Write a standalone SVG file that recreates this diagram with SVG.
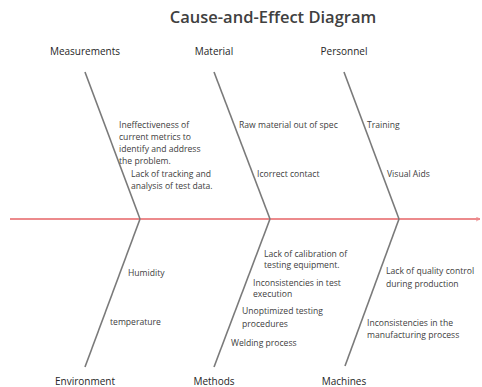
<svg xmlns="http://www.w3.org/2000/svg" width="482" height="387" viewBox="0 0 482 387">
<style>
.title{font-family:"Open Sans","Noto Sans",sans-serif;font-size:16.5px;font-weight:600;fill:#404040}
.cat{font-family:"Open Sans","Noto Sans",sans-serif;font-size:10px;fill:#262626;text-anchor:middle}
.cause{font-family:"Open Sans","Noto Sans",sans-serif;font-size:8.6px;fill:#404040}
.bone{stroke:#7a7a7a;stroke-width:1.6;fill:none}
.spine{stroke:#ec8a8c;stroke-width:2.2;fill:none}
</style>
<defs>
<marker id="arr" viewBox="0 0 10 10" refX="9" refY="5" markerWidth="5" markerHeight="5" orient="auto" markerUnits="userSpaceOnUse">
<path d="M1,1 L9,5 L1,9" fill="none" stroke="#ec8a8c" stroke-width="1.5"/>
</marker>
</defs>
<rect width="482" height="387" fill="#ffffff"/>
<text class="title" x="273" y="23" text-anchor="middle">Cause-and-Effect Diagram</text>
<g id="connectors">
<line class="spine" x1="10" y1="219" x2="480" y2="219" marker-end="url(#arr)"/>
<line class="bone" x1="85" y1="72" x2="140" y2="219"/>
<line class="bone" x1="214" y1="72" x2="270" y2="219"/>
<line class="bone" x1="344" y1="72" x2="399" y2="219"/>
<line class="bone" x1="140" y1="219" x2="85" y2="367"/>
<line class="bone" x1="270" y1="219" x2="214" y2="367"/>
<line class="bone" x1="399" y1="219" x2="345" y2="366"/>
</g>
<g id="measurements">
<text class="cat" x="85" y="55">Measurements</text>
<text class="cause" x="119" y="128">Ineffectiveness of</text>
<text class="cause" x="119" y="140">current metrics to</text>
<text class="cause" x="119" y="152">identify and address</text>
<text class="cause" x="119" y="164">the problem.</text>
<text class="cause" x="131" y="177">Lack of tracking and</text>
<text class="cause" x="131" y="189">analysis of test data.</text>
</g>
<g id="material">
<text class="cat" x="214" y="55">Material</text>
<text class="cause" x="239" y="128">Raw material out of spec</text>
<text class="cause" x="257" y="177">Icorrect contact</text>
</g>
<g id="personnel">
<text class="cat" x="344" y="55">Personnel</text>
<text class="cause" x="367" y="128">Training</text>
<text class="cause" x="387" y="177">Visual Aids</text>
</g>
<g id="environment">
<text class="cat" x="85" y="385">Environment</text>
<text class="cause" x="128" y="276">Humidity</text>
<text class="cause" x="110" y="325">temperature</text>
</g>
<g id="methods">
<text class="cat" x="214" y="385">Methods</text>
<text class="cause" x="264" y="257">Lack of calibration of</text>
<text class="cause" x="264" y="268">testing equipment.</text>
<text class="cause" x="253" y="286">Inconsistencies in test</text>
<text class="cause" x="253" y="297">execution</text>
<text class="cause" x="242" y="314">Unoptimized testing</text>
<text class="cause" x="242" y="327">procedures</text>
<text class="cause" x="231" y="346">Welding process</text>
</g>
<g id="machines">
<text class="cat" x="344" y="385">Machines</text>
<text class="cause" x="386" y="274">Lack of quality control</text>
<text class="cause" x="386" y="287">during production</text>
<text class="cause" x="367" y="326">Inconsistencies in the</text>
<text class="cause" x="367" y="338">manufacturing process</text>
</g>
</svg>
